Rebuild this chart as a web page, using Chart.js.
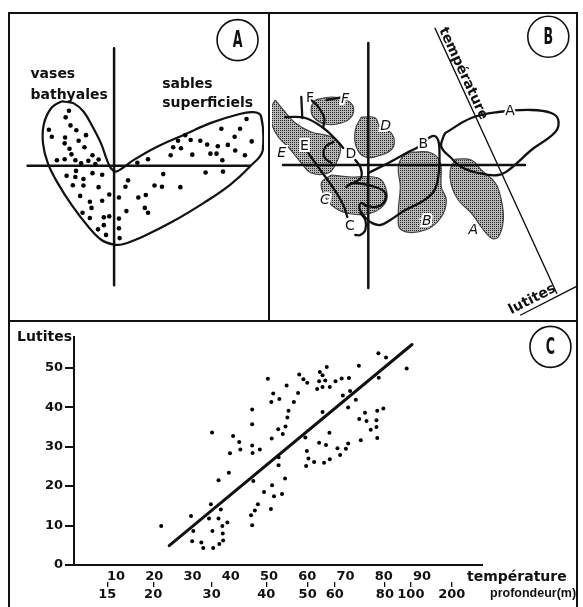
<!DOCTYPE html>
<html>
<head>
<meta charset="utf-8">
<script src="https://cdn.jsdelivr.net/npm/chart.js@4.4.1/dist/chart.umd.min.js"></script>
<style>
body { margin: 0; background: #fff; }
#fig { position: relative; width: 583px; height: 607px; overflow: hidden; }
.cadre { position: absolute; background: #111; }
canvas { position: absolute; }
</style>
</head>
<body>
<div id="fig">
  <div class="cadre" style="left:8px;top:12px;width:570px;height:2px"></div>
  <div class="cadre" style="left:8px;top:12px;width:2px;height:595px"></div>
  <div class="cadre" style="left:576px;top:12px;width:2px;height:595px"></div>
  <div class="cadre" style="left:268px;top:12px;width:2px;height:309px"></div>
  <div class="cadre" style="left:8px;top:320px;width:570px;height:2px"></div>
  <canvas id="panneauA" width="258" height="306" style="left:10px;top:14px"></canvas>
  <canvas id="panneauB" width="304" height="306" style="left:272px;top:14px"></canvas>
  <canvas id="panneauC" width="573" height="285" style="left:10px;top:322px"></canvas>
</div>
<script>
"use strict";
const POLICE = "'DejaVu Sans', sans-serif";

// ---------- panneau C : lutites en fonction de la température
const temperature = [21.8, 29.6, 30.2, 29.9, 32.3, 32.8, 35.1, 34.8, 34.3, 35.2, 35.4, 36.8, 37.4, 36.8, 37.8, 37.9, 37.0, 38.0, 39.1, 39.5,
    39.8, 40.6, 42.2, 42.5, 45.6, 45.6, 45.6, 45.7, 47.6, 45.9, 45.3, 46.3, 47.1, 45.6, 48.7, 50.8, 51.3, 53.4, 54.2, 50.5,
    49.7, 51.1, 50.6, 52.7, 50.7, 52.4, 53.6, 52.5, 52.5, 54.3, 54.8, 55.1, 54.6, 56.5, 57.6, 57.9, 59.0, 60.0, 59.5, 59.9,
    60.3, 59.7, 61.8, 62.6, 63.1, 63.3, 63.1, 64.0, 65.1, 64.0, 64.7, 65.9, 64.0, 64.9, 65.8, 64.4, 65.9, 67.4, 69.0, 70.9,
    73.5, 69.3, 71.2, 72.7, 70.7, 67.9, 70.1, 70.7, 68.6, 73.6, 75.1, 75.5, 74.0, 76.6, 78.1, 78.1, 78.3, 79.9, 78.3, 78.6,
    80.6, 78.7, 86.0];
const lutites = [9.9, 12.4, 8.6, 6.0, 5.7, 4.3, 33.6, 15.4, 11.8, 8.6, 4.3, 21.5, 14.1, 11.8, 9.9, 8.0, 5.3, 6.2, 10.8, 23.4,
    28.3, 32.7, 31.2, 29.3, 39.4, 35.7, 30.3, 28.4, 29.3, 21.3, 12.6, 13.8, 15.4, 10.1, 18.5, 20.2, 17.4, 18.0, 21.9, 14.2,
    47.2, 43.5, 41.3, 42.1, 32.1, 34.4, 33.2, 27.3, 25.3, 35.1, 37.4, 39.1, 45.5, 41.3, 43.6, 48.3, 47.1, 46.2, 32.3, 28.9,
    27.0, 25.1, 26.1, 44.6, 46.6, 48.9, 31.0, 48.1, 50.2, 45.1, 46.8, 45.1, 38.8, 30.4, 33.5, 25.9, 26.8, 46.6, 47.3, 47.4,
    50.5, 43.0, 44.1, 41.9, 39.9, 29.6, 29.5, 30.8, 27.9, 37.0, 38.6, 36.5, 31.6, 34.3, 35.0, 36.7, 39.1, 39.7, 32.2, 53.7,
    52.6, 47.5, 49.8];
const droiteTemp = [23.9, 87.4];
const droiteLut = [4.9, 55.9];
const ticksTemp = [10, 20, 30, 40, 50, 60, 70, 80, 90];
const ticksLutites = [0, 10, 20, 30, 40, 50];
const profondeurLabels = ['15', '20', '30', '40', '50', '60', '80', '100', '200'];
const profondeurPos = [7.7, 19.7, 35.0, 49.3, 60.1, 67.2, 80.3, 87.1, 97.8];

// ---------- panneau A : plan factoriel, stations
const stationsA = [[-4.66, 5.64], [-5.0, 4.97], [-4.5, 4.14], [-3.9, 3.64], [-6.73, 3.7], [-6.43, 2.97], [-5.06, 2.9], [-2.9, 3.14],
    [-5.1, 2.3], [-3.66, 2.57], [-4.6, 1.74], [-3.06, 1.9], [-4.4, 1.17], [-5.9, 0.57], [-5.1, 0.67], [-4.0, 0.57], [-2.23, 1.07],
    [-3.4, 0.24], [-2.66, 0.5], [-1.6, 0.64], [-1.93, 0.17], [-3.93, -0.53], [-2.23, -0.76], [-1.23, -0.93], [-4.9, -1.03],
    [-4.0, -1.16], [-3.16, -1.36], [-4.26, -2.0], [-3.16, -2.03], [-1.6, -2.2], [-3.5, -3.1], [-0.5, -2.96], [-2.5, -3.7],
    [-1.23, -3.6], [-2.33, -4.33], [-3.26, -4.83], [-2.5, -5.36], [-1.06, -5.3], [-0.5, -5.2], [-1.66, -6.53], [-1.06, -6.1],
    [-0.83, -7.1], [0.5, -3.26], [1.44, -1.5], [1.17, -2.16], [2.5, -3.26], [3.27, -3.0], [4.17, -2.03], [4.94, -2.16],
    [5.07, -0.86], [6.84, -2.2], [9.44, -0.7], [11.24, -0.6], [1.27, -4.66], [3.17, -4.33], [3.5, -4.83], [0.5, -5.43],
    [0.5, -6.43], [0.57, -7.43], [2.4, 0.3], [3.5, 0.67], [5.84, 1.07], [6.1, 1.9], [6.9, 1.8], [6.6, 2.57], [7.34, 3.14],
    [7.9, 2.64], [8.07, 1.14], [8.9, 2.57], [9.6, 2.17], [9.94, 1.24], [10.57, 1.24], [10.7, 2.0], [11.17, 0.57], [11.07, 3.8],
    [11.74, 2.14], [12.5, 1.57], [12.44, 2.97], [13.0, 3.8], [13.67, 4.8], [14.2, 2.5], [13.5, 1.07]];
const contourA = [[-5.0, 6.57], [-4.16, 6.4], [-3.16, 5.57], [-2.16, 3.9], [-1.33, 2.24], [-0.73, 0.57], [-0.33, -0.26], [0.17, -0.6],
    [0.84, -0.26], [2.0, 0.57], [4.34, 1.9], [7.34, 3.24], [10.0, 4.4], [12.67, 5.24], [14.34, 5.5], [15.17, 5.07], [15.34, 1.57],
    [14.0, -0.1], [12.0, -1.93], [9.34, -3.76], [6.0, -5.76], [3.0, -7.26], [1.0, -8.03], [0.0, -8.1], [-1.33, -7.6], [-2.66, -6.26],
    [-4.33, -4.1], [-5.83, -1.76], [-6.83, 0.24], [-7.33, 2.24], [-7.26, 4.24], [-6.5, 5.9], [-5.5, 6.57], [-5.0, 6.57]];
const axeVertA = [[0, 12.07], [0, -12.26]];
const axeHorA = [[-8.93, 0], [14.0, 0]];
const textesA = [['vases', -8.63, 9.37], ['bathyales', -8.63, 7.27], ['sables', 4.97, 8.37], ['superficiels', 4.97, 6.37]];
const rondA = [12.74, 12.9];

// ---------- panneau B : nuages (pointillés) et parcours
const nuageE = [[-9.3, 6.5], [-8.5, 5.5], [-7.3, 4.2], [-5.7, 3.3], [-3.7, 2.8], [-2.8, 1.8], [-3.2, 0.2], [-4.0, -0.8], [-5.7, -0.8],
    [-6.7, 0.2], [-8.0, 1.8], [-9.0, 2.8], [-9.7, 4.2], [-9.8, 5.5], [-9.3, 6.5]];
const nuageF = [[-5.3, 6.5], [-3.7, 6.8], [-2.2, 6.5], [-1.5, 5.8], [-1.7, 4.8], [-2.7, 4.2], [-4.3, 4.1], [-5.5, 4.8], [-5.7, 5.8], [-5.3, 6.5]];
const nuageD = [[-0.7, 4.8], [0.7, 4.7], [1.2, 3.7], [2.3, 3.2], [2.5, 1.8], [1.3, 1.0], [-0.3, 0.8], [-1.2, 1.8], [-1.3, 3.5], [-0.7, 4.8]];
const nuageC = [[-3.7, -1.0], [-1.7, -1.2], [1.0, -1.3], [1.8, -2.5], [1.7, -3.8], [0.3, -4.8], [-1.7, -4.9], [-3.3, -4.3], [-4.3, -3.2],
    [-4.7, -1.8], [-3.7, -1.0]];
const nuageB = [[4.3, 1.3], [6.3, 1.2], [7.2, 0.2], [7.3, -2.2], [7.8, -3.5], [7.3, -5.2], [5.7, -6.5], [3.3, -6.5], [3.0, -4.8],
    [3.2, -2.2], [3.0, -0.2], [3.5, 0.9], [4.3, 1.3]];
const nuageA = [[8.7, 0.6], [10.3, 0.5], [11.3, -0.5], [12.7, -1.8], [13.3, -3.5], [13.5, -5.5], [13.0, -7.2], [12.3, -7.3], [11.3, -6.2],
    [10.3, -4.8], [9.0, -3.5], [8.3, -2.0], [8.2, -0.5], [8.7, 0.6]];
const boucleA = [[7.7, 3.2], [10.3, 4.7], [13.0, 5.3], [16.3, 5.5], [18.3, 5.2], [19.0, 4.5], [18.7, 3.3], [16.3, 1.5], [14.3, -0.3],
    [13.0, -1.0], [11.0, -0.8], [9.3, -0.2], [8.2, 0.8], [7.3, 1.8], [7.5, 2.8], [7.7, 3.2]];
const parcoursB = [[0.0, -0.8], [2.0, 0.2], [4.0, 1.3], [5.0, 1.8], [6.2, 2.8], [6.8, 2.8], [7.1, 1.8], [7.0, -1.2], [6.5, -2.7],
    [5.3, -3.7], [3.7, -4.5], [2.2, -5.5], [1.2, -6.0], [0.2, -5.7], [-0.5, -5.0], [-0.9, -4.3], [-0.7, -3.8], [-0.2, -4.1]];
const boucleC = [[-2.2, -2.2], [-1.5, -1.8], [0.7, -2.2], [1.7, -2.8], [1.5, -3.8], [0.7, -4.2], [-0.3, -4.0]];
const parcoursE = [[-6.0, 1.2], [-4.8, -0.5], [-3.5, -2.3], [-2.5, -4.0], [-2.1, -5.2]];
const crochetC = [[-0.8, -4.8], [-0.3, -5.5], [-0.3, -6.5], [-0.8, -7.0], [-1.3, -7.0]];
const parcoursEF = [[-8.3, 4.8], [-6.3, 4.7], [-4.5, 3.7], [-3.2, 2.5], [-2.5, 1.7]];
const traitF1 = [[-6.7, 6.8], [-6.6, 4.7]];
const traitF2 = [[-5.7, 6.5], [-5.0, 5.8], [-4.4, 4.7], [-4.5, 3.8]];
const traitF3 = [[-4.17, 6.5], [-2.83, 6.73]];
const traitD = [[-1.3, 0.5], [-0.8, -0.2], [-0.7, -1.2], [-1.3, -1.7], [-2.0, -2.0]];
const boucleE = [[-3.5, 2.3], [-4.3, 1.8], [-4.4, 0.8], [-3.7, 0.2]];
const axeVertB = [[0, 12.2], [0, -12.3]];
const axeHorB = [[-8.53, 0], [15.67, 0]];
const axeTemperature = [[6.67, 13.67], [18.84, -12.83]];
const axeLutites = [[15.24, -15.0], [20.77, -12.17]];
const lettresB = [['F', -5.83, 6.67, ''], ['F', -2.33, 6.57, 'italic '], ['D', 1.74, 3.83, 'italic '], ['E', -8.66, 1.17, 'italic '],
    ['E', -6.4, 1.83, ''], ['D', -1.73, 1.1, ''], ['B', 5.5, 2.1, ''], ['A', 14.17, 5.33, ''], ['C', -4.33, -3.5, 'italic '],
    ['C', -1.83, -6.17, ''], ['B', 5.84, -5.67, 'italic '], ['A', 10.5, -6.5, 'italic ']];
const rondB = [18.0, 12.83];
const rondC = [123.6, 55.3];

function versXY(paires) {
    return paires.map(p => ({x: p[0], y: p[1]}));
}

// trame pointillée des nuages
function pointille() {
    const c = document.createElement('canvas');
    c.width = 2;
    c.height = 2;
    const g = c.getContext('2d');
    g.fillStyle = '#b8b8b8';
    g.fillRect(0, 0, 2, 2);
    g.fillStyle = '#222';
    g.fillRect(0, 0, 1, 1);
    return g.createPattern(c, 'repeat');
}
const motif = pointille();

function trait(paires, largeur, lisse) {
    return {data: versXY(paires), borderColor: '#111', borderWidth: largeur, pointRadius: 0,
        tension: lisse ? 0.4 : 0, fill: false, order: 1, borderCapStyle: 'round'};
}
function nuage(paires) {
    return {data: versXY(paires), borderColor: '#444', borderWidth: 1.2, pointRadius: 0, tension: 0.4,
        fill: 'shape', backgroundColor: motif, order: 3};
}

function rondLettre(ctx, cx, cy, lettre) {
    ctx.save();
    ctx.beginPath();
    ctx.arc(cx, cy, 20.5, 0, Math.PI * 2);
    ctx.lineWidth = 1.6;
    ctx.strokeStyle = '#111';
    ctx.stroke();
    ctx.translate(cx, cy + 1);
    ctx.scale(0.55, 1);
    ctx.font = "bold 23px " + POLICE;
    ctx.fillStyle = '#111';
    ctx.textAlign = 'center';
    ctx.textBaseline = 'middle';
    ctx.fillText(lettre, 0, 0);
    ctx.restore();
}

function texteTourne(ctx, txt, x, y, angle, police) {
    ctx.save();
    ctx.translate(x, y);
    ctx.rotate(angle * Math.PI / 180);
    ctx.font = police;
    ctx.fillStyle = '#111';
    ctx.textAlign = 'left';
    ctx.textBaseline = 'alphabetic';
    ctx.fillText(txt, 0, 0);
    ctx.restore();
}

function diagramme(id, xr, yr, datasets, decor) {
    return new Chart(document.getElementById(id), {
        type: 'line',
        data: {datasets: datasets},
        options: {
            responsive: false,
            animation: false,
            layout: {padding: 0},
            plugins: {legend: {display: false}, tooltip: {enabled: false}},
            scales: {
                x: {type: 'linear', display: false, min: xr[0], max: xr[1]},
                y: {type: 'linear', display: false, min: yr[0], max: yr[1]}
            }
        },
        plugins: [{id: 'decor', afterDatasetsDraw: decor}]
    });
}

// Panneau A
diagramme('panneauA', [-10.33, 15.47], [-15.43, 15.17], [
    {data: versXY(stationsA), showLine: false, pointRadius: 2.3, pointBackgroundColor: '#000', pointBorderWidth: 0, order: 0},
    trait(axeVertA, 2.5, false),
    trait(axeHorA, 2.5, false),
    trait(contourA, 2.2, true)
], chart => {
    const ctx = chart.ctx;
    const sx = chart.scales.x, sy = chart.scales.y;
    ctx.save();
    ctx.font = "bold 14px " + POLICE;
    ctx.fillStyle = '#111';
    ctx.textBaseline = 'middle';
    textesA.forEach(t => ctx.fillText(t[0], sx.getPixelForValue(t[1]), sy.getPixelForValue(t[2])));
    ctx.restore();
    rondLettre(ctx, sx.getPixelForValue(rondA[0]), sy.getPixelForValue(rondA[1]), 'A');
});

// Panneau B
diagramme('panneauB', [-9.63, 20.77], [-15.5, 15.1], [
    trait(axeVertB, 2.5, false),
    trait(axeHorB, 2.5, false),
    trait(axeTemperature, 1.4, false),
    trait(axeLutites, 1.4, false),
    trait(boucleA, 2.3, true),
    trait(parcoursB, 2.3, true),
    trait(boucleC, 2.3, true),
    trait(parcoursE, 2.3, true),
    trait(crochetC, 2.3, true),
    trait(parcoursEF, 2.3, true),
    trait(traitF1, 2.3, false),
    trait(traitF2, 2.3, true),
    trait(traitF3, 2.3, false),
    trait(traitD, 2.3, true),
    trait(boucleE, 2.3, true),
    nuage(nuageE), nuage(nuageF), nuage(nuageD), nuage(nuageC), nuage(nuageB), nuage(nuageA)
], chart => {
    const ctx = chart.ctx;
    const sx = chart.scales.x, sy = chart.scales.y;
    ctx.save();
    ctx.textAlign = 'center';
    ctx.textBaseline = 'middle';
    lettresB.forEach(l => {
        const x = sx.getPixelForValue(l[1]), y = sy.getPixelForValue(l[2]);
        ctx.font = l[3] + "14px " + POLICE;
        ctx.lineWidth = 4;
        ctx.strokeStyle = '#fff';
        ctx.strokeText(l[0], x, y);
        ctx.fillStyle = '#111';
        ctx.fillText(l[0], x, y);
    });
    ctx.restore();
    texteTourne(ctx, 'température', sx.getPixelForValue(7.07), sy.getPixelForValue(13.52), 65.3, "bold 14px " + POLICE);
    texteTourne(ctx, 'lutites', sx.getPixelForValue(14.3), sy.getPixelForValue(-14.92), -27.1, "bold 14px " + POLICE);
    rondLettre(ctx, sx.getPixelForValue(rondB[0]), sy.getPixelForValue(rondB[1]), 'B');
});

// Panneau C
const policeTicks = {family: POLICE, size: 13, weight: 'bold', lineHeight: 1};
new Chart(document.getElementById('panneauC'), {
    type: 'line',
    data: {
        datasets: [
            {data: temperature.map((t, i) => ({x: t, y: lutites[i]})), showLine: false, pointRadius: 2,
                pointBackgroundColor: '#000', pointBorderWidth: 0},
            {data: droiteTemp.map((t, i) => ({x: t, y: droiteLut[i]})), borderColor: '#111', borderWidth: 3,
                pointRadius: 0, borderCapStyle: 'round'}
        ]
    },
    options: {
        responsive: false,
        animation: false,
        layout: {padding: {top: 15, right: 101, left: 0, bottom: 0}},
        plugins: {legend: {display: false}, tooltip: {enabled: false}},
        scales: {
            x: {
                type: 'linear', position: 'bottom', min: -1, max: 105.7, weight: 0,
                afterBuildTicks: s => { s.ticks = ticksTemp.map(v => ({value: v})); },
                afterFit: s => { s.height = 17; },
                grid: {display: true, drawOnChartArea: false, drawTicks: false},
                border: {display: true, color: '#111', width: 2},
                ticks: {color: '#111', padding: 5, maxRotation: 0, autoSkip: false, font: policeTicks}
            },
            x2: {
                type: 'linear', axis: 'x', position: 'bottom', min: -1, max: 105.7, weight: 1,
                afterBuildTicks: s => { s.ticks = profondeurPos.map(v => ({value: v})); },
                afterFit: s => { s.height = 25; },
                grid: {display: true, drawOnChartArea: false, drawTicks: true, tickLength: 5, color: '#111', lineWidth: 1.3},
                border: {display: false},
                ticks: {color: '#111', padding: 1, maxRotation: 0, autoSkip: false, font: policeTicks,
                    callback: (v, i) => profondeurLabels[i]}
            },
            y: {
                type: 'linear', min: 0, max: 57.8,
                afterBuildTicks: s => { s.ticks = ticksLutites.map(v => ({value: v})); },
                afterFit: s => { s.width = 64; },
                grid: {drawOnChartArea: false, tickLength: 9, color: '#111', lineWidth: 2},
                border: {display: true, color: '#111', width: 2},
                ticks: {color: '#111', padding: 2, font: policeTicks}
            }
        }
    },
    plugins: [{
        id: 'titres',
        afterDraw: chart => {
            const ctx = chart.ctx;
            const a = chart.chartArea;
            ctx.save();
            ctx.fillStyle = '#111';
            ctx.textBaseline = 'middle';
            ctx.font = "bold 14px " + POLICE;
            ctx.textAlign = 'right';
            ctx.fillText('Lutites', a.left - 2, a.top);
            ctx.textAlign = 'left';
            ctx.fillText('température', a.right - 15, a.bottom + 12);
            ctx.font = "bold 12.5px 'Liberation Sans', sans-serif";
            ctx.fillText('profondeur(m)', a.right + 8, a.bottom + 29);
            ctx.restore();
            rondLettre(ctx, chart.scales.x.getPixelForValue(rondC[0]), chart.scales.y.getPixelForValue(rondC[1]), 'C');
        }
    }]
});
</script>
</body>
</html>
